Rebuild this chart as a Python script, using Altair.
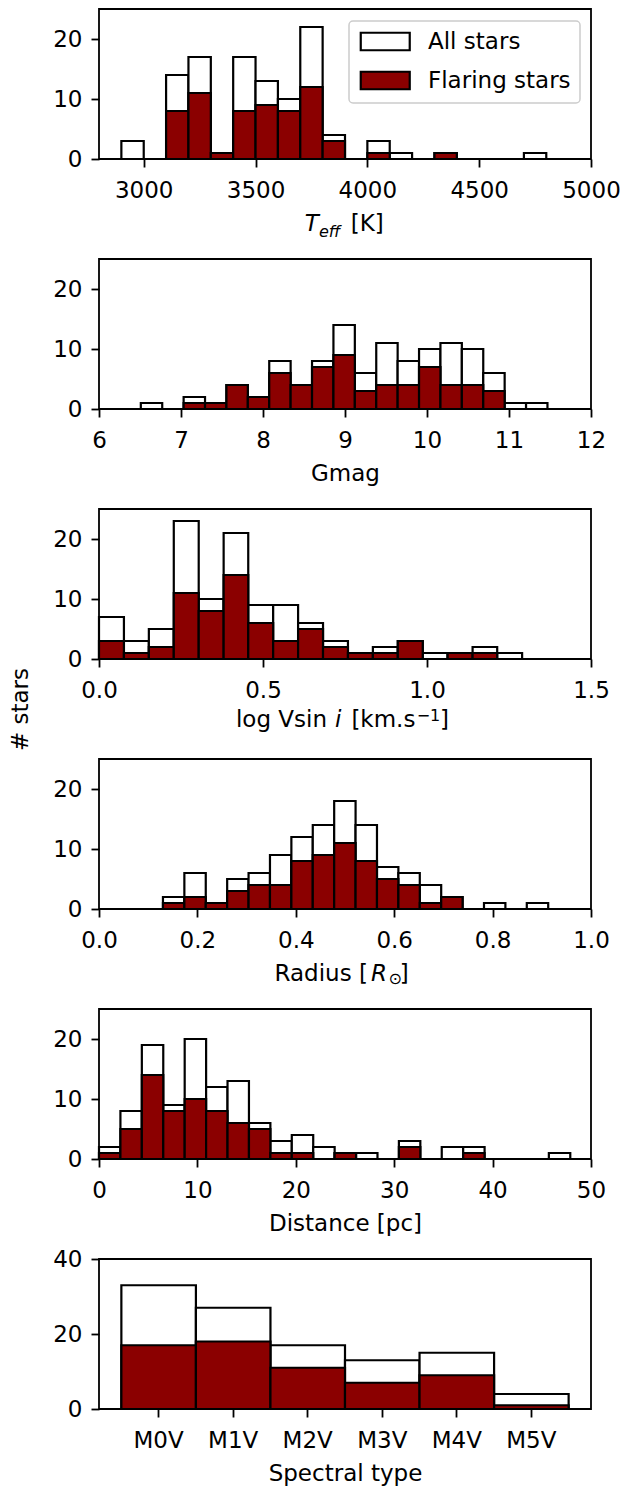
import altair as alt
import pandas as pd

FONT = "DejaVu Sans"
FS = 23
DARKRED = "#8b0000"
SERIES = ["All stars", "Flaring stars"]

# ---- Teff [K] ----
teff_edges = [2900, 3000, 3100, 3200, 3300, 3400, 3500, 3600, 3700, 3800, 3900,
              4000, 4100, 4200, 4300, 4400, 4500, 4600, 4700, 4800]
teff_all = [3, 0, 14, 17, 1, 17, 13, 10, 22, 4, 0, 3, 1, 0, 1, 0, 0, 0, 1]
teff_flare = [0, 0, 8, 11, 1, 8, 9, 8, 12, 3, 0, 1, 0, 0, 1, 0, 0, 0, 0]
teff_ticks = [3000, 3500, 4000, 4500, 5000]

# ---- Gmag ----
gmag_edges = [6.51, 6.771, 7.032, 7.293, 7.554, 7.815, 8.076, 8.337, 8.598, 8.859, 9.12,
              9.381, 9.642, 9.903, 10.164, 10.425, 10.686, 10.947, 11.208, 11.469, 11.73]
gmag_all = [1, 0, 2, 1, 4, 2, 8, 4, 8, 14, 6, 11, 8, 10, 11, 10, 6, 1, 1, 0]
gmag_flare = [0, 0, 1, 1, 4, 2, 6, 4, 7, 9, 3, 4, 4, 7, 4, 4, 3, 0, 0, 0]
gmag_ticks = [6, 7, 8, 9, 10, 11, 12]

# ---- log Vsin i ----
vsini_edges = [0.0, 0.076, 0.152, 0.228, 0.304, 0.38, 0.455, 0.531, 0.607, 0.683,
               0.759, 0.835, 0.911, 0.987, 1.063, 1.139, 1.214, 1.29]
vsini_all = [7, 3, 5, 23, 10, 21, 9, 9, 6, 3, 1, 2, 3, 1, 1, 2, 1]
vsini_flare = [3, 1, 2, 11, 8, 14, 6, 3, 5, 2, 1, 1, 3, 0, 1, 1, 0]
vsini_ticks = [0.0, 0.5, 1.0, 1.5]

# ---- Radius [Rsun] ----
rad_edges = [0.13, 0.1735, 0.217, 0.2605, 0.304, 0.3475, 0.391, 0.4345, 0.478, 0.5215,
             0.565, 0.6085, 0.652, 0.6955, 0.739, 0.7825, 0.826, 0.8695, 0.913, 0.9565]
rad_all = [2, 6, 1, 5, 6, 9, 12, 14, 18, 14, 7, 6, 4, 2, 0, 1, 0, 1, 0]
rad_flare = [1, 2, 1, 3, 4, 4, 8, 9, 11, 8, 5, 4, 1, 2, 0, 0, 0, 0, 0]
rad_ticks = [0.0, 0.2, 0.4, 0.6, 0.8, 1.0]

# ---- Distance [pc] ----
dist_edges = [0.0, 2.177, 4.354, 6.531, 8.708, 10.885, 13.062, 15.239, 17.416, 19.593,
              21.77, 23.947, 26.124, 28.301, 30.478, 32.655, 34.832, 37.009, 39.186,
              41.363, 43.54, 45.717, 47.894]
dist_all = [2, 8, 19, 9, 20, 12, 13, 6, 3, 4, 2, 1, 1, 0, 3, 0, 2, 2, 0, 0, 0, 1]
dist_flare = [1, 5, 14, 8, 10, 8, 6, 5, 1, 1, 0, 1, 0, 0, 2, 0, 0, 1, 0, 0, 0, 0]
dist_ticks = [0, 10, 20, 30, 40, 50]

# ---- Spectral type ----
spec_types = ["M0V", "M1V", "M2V", "M3V", "M4V", "M5V"]
spec_all = [33, 27, 17, 13, 15, 4]
spec_flare = [17, 18, 11, 7, 9, 1]

W, H = 492, 150
SPACING = 100
BAR_SW = 2.2
DX = (W - 500) / 2  # keep composite titles centred on the plot


def hist_df(edges, all_counts, flare_counts):
    rows = []
    for series, counts in zip(SERIES, (all_counts, flare_counts)):
        for i, c in enumerate(counts):
            rows.append({"lo": edges[i], "hi": edges[i + 1], "count": c, "series": series})
    return pd.DataFrame(rows)


def fill_enc(legend=None):
    scale = alt.Scale(domain=SERIES, range=["white", DARKRED])
    if legend is None:
        return alt.Fill("series:N", scale=scale, legend=None)
    return alt.Fill("series:N", scale=scale, legend=legend)


def text_layers(segments):
    out = []
    for txt, x, y, size, style, align in segments:
        out.append(
            alt.Chart(pd.DataFrame({"k": [0]}))
            .mark_text(align=align, baseline="alphabetic", font=FONT,
                       fontSize=size, fontStyle=style, color="black")
            .encode(x=alt.value(x + DX), y=alt.value(y), text=alt.value(txt))
        )
    return out


def y_axis(values, ytitle=None):
    if ytitle is None:
        return alt.Axis(values=values, title=None)
    return alt.Axis(values=values, title=ytitle, titleX=-71.6, titleY=-SPACING / 2,
                    titleAngle=270, titleAlign="center", titleBaseline="alphabetic")


def hist_panel(edges, a, f, xdomain, xticks, xfmt, xtitle=None, segments=None,
               legend=None, ytitle=None):
    df = hist_df(edges, a, f)
    if xtitle is None:
        xaxis = alt.Axis(values=xticks, format=xfmt, title=None)
    else:
        xaxis = alt.Axis(values=xticks, format=xfmt, title=xtitle, titlePadding=10.8)
    bars = alt.Chart(df).mark_bar(stroke="black", strokeWidth=BAR_SW).encode(
        x=alt.X("lo:Q", scale=alt.Scale(domain=xdomain, nice=False, zero=False), axis=xaxis),
        x2="hi:Q",
        y=alt.Y("count:Q", stack=None, scale=alt.Scale(domain=[0, 25], nice=False),
                axis=y_axis([0, 10, 20], ytitle)),
        y2=alt.datum(0),
        fill=fill_enc(legend),
    )
    layers = [bars]
    if segments:
        layers += text_layers(segments)
    return alt.layer(*layers).properties(width=W, height=H)


legend = alt.Legend(
    orient="top-right", offset=11.5, title=None,
    labelFont=FONT, labelFontSize=FS, labelColor="black",
    symbolType="M-1,-1H4.6V1H-1Z", symbolSize=306,
    symbolStrokeColor="black", symbolStrokeWidth=BAR_SW,
    labelOffset=47, rowPadding=12, padding=9,
    strokeColor="#cccccc", fillColor="white", cornerRadius=4,
)

p1 = hist_panel(teff_edges, teff_all, teff_flare, [2800, 5000], teff_ticks, "d",
                segments=[("T", 209.7, 222.3, FS, "italic", "left"),
                          ("eff", 224, 227.8, 16, "italic", "left"),
                          ("[K]", 255.7, 222.3, FS, "normal", "left")],
                legend=legend)
p2 = hist_panel(gmag_edges, gmag_all, gmag_flare, [6, 12], gmag_ticks, "d", xtitle="Gmag")
p3 = hist_panel(vsini_edges, vsini_all, vsini_flare, [0, 1.5], vsini_ticks, ".1f",
                segments=[("log Vsin", 232, 218.3, FS, "normal", "right"),
                          ("i", 240, 218.3, FS, "italic", "left"),
                          ("[km.s", 256.4, 218.3, FS, "normal", "left"),
                          ("\u22121", 321.7, 211.7, 16, "normal", "left"),
                          ("]", 345, 218.3, FS, "normal", "left")])
p4 = hist_panel(rad_edges, rad_all, rad_flare, [0, 1], rad_ticks, ".1f",
                segments=[("Radius [", 179.5, 221.7, FS, "normal", "left"),
                          ("R", 276, 221.7, FS, "italic", "left"),
                          ("\u2299", 293.5, 224.7, 16, "normal", "left"),
                          ("]", 304.7, 221.7, FS, "normal", "left")],
                ytitle="# stars")
p5 = hist_panel(dist_edges, dist_all, dist_flare, [0, 50], dist_ticks, "d",
                xtitle="Distance [pc]")

rows6 = []
for series, counts in zip(SERIES, (spec_all, spec_flare)):
    for t, c in zip(spec_types, counts):
        rows6.append({"type": t, "count": c, "series": series})
df6 = pd.DataFrame(rows6)
p6 = alt.Chart(df6).mark_bar(stroke="black", strokeWidth=BAR_SW).encode(
    x=alt.X("type:N", sort=spec_types,
            scale=alt.Scale(paddingInner=0, paddingOuter=0.3),
            axis=alt.Axis(title="Spectral type", labelAngle=0, titlePadding=10)),
    y=alt.Y("count:Q", stack=None, scale=alt.Scale(domain=[0, 40], nice=False),
            axis=alt.Axis(values=[0, 20, 40], title=None)),
    fill=fill_enc(None),
).properties(width=W, height=H)

chart = (
    alt.vconcat(p1, p2, p3, p4, p5, p6, spacing=SPACING, bounds="flush")
    .resolve_scale(fill="independent")
    .resolve_legend(fill="independent")
    .properties(padding={"left": 0, "top": 0, "right": 0, "bottom": 0})
    .configure_view(stroke="black", strokeWidth=1.8)
    .configure_axis(labelFont=FONT, labelFontSize=FS, labelColor="black",
                    tickColor="black", tickWidth=1.8, tickSize=8, domain=False, grid=False,
                    titleFont=FONT, titleFontSize=FS, titleFontWeight="normal",
                    titleColor="black", labelFlush=False, labelOverlap=False)
    .configure_axisX(labelPadding=12)
    .configure_axisY(labelPadding=9)
    .configure_legend(strokeWidth=1.5)
)

chart.save("out.html", embed_options={"renderer": "svg", "actions": False})
